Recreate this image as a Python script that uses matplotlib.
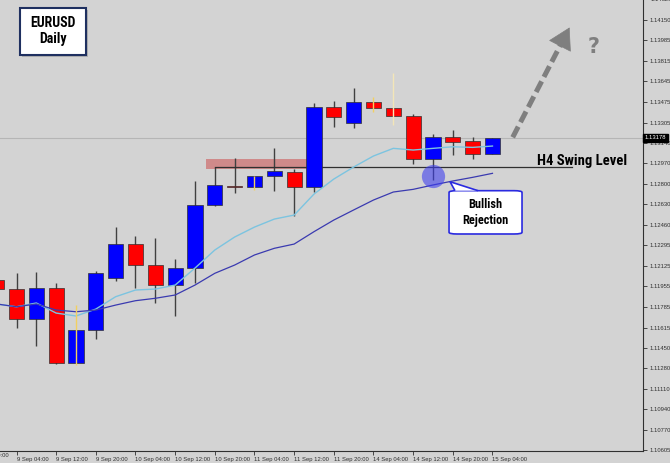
import matplotlib
matplotlib.use("Agg")
import matplotlib.pyplot as plt
from matplotlib.patches import FancyBboxPatch, Polygon

# H4 candles, index -1 = 9 Sep 00:00
idx = list(range(-1, 25))
opens = [1.12007, 1.11930, 1.11685, 1.11938, 1.11325, 1.11594, 1.12021, 1.12303, 1.12133,
         1.11965, 1.12103, 1.12625, 1.12784, 1.12771, 1.12864, 1.12894, 1.12776, 1.13435,
         1.13303, 1.13472, 1.13427, 1.13359, 1.13004, 1.13183, 1.13153, 1.13043]
highs = [1.12020, 1.12067, 1.12075, 1.11979, 1.11800, 1.12083, 1.12441, 1.12369, 1.12350,
         1.12180, 1.12823, 1.12941, 1.13010, 1.12864, 1.13097, 1.12922, 1.13468, 1.13486,
         1.13587, 1.13518, 1.13716, 1.13375, 1.13210, 1.13243, 1.13183, 1.13178]
lows = [1.11925, 1.11613, 1.11465, 1.11312, 1.11306, 1.11518, 1.12001, 1.11943, 1.11814,
        1.11710, 1.11978, 1.12620, 1.12726, 1.12749, 1.12740, 1.12534, 1.12734, 1.13268,
        1.13257, 1.13394, 1.13284, 1.12963, 1.12831, 1.13037, 1.13002, 1.13043]
closes = [1.11932, 1.11685, 1.11938, 1.11325, 1.11594, 1.12062, 1.12303, 1.12130, 1.11965,
          1.12103, 1.12625, 1.12787, 1.12771, 1.12864, 1.12903, 1.12776, 1.13430, 1.13348,
          1.13472, 1.13427, 1.13361, 1.13004, 1.13183, 1.13147, 1.13043, 1.13178]

# moving averages
ma_fast = [1.11809, 1.11786, 1.11817, 1.11734, 1.11710, 1.11767, 1.11869, 1.11924, 1.11932,
           1.11965, 1.12105, 1.12254, 1.12361, 1.12443, 1.12509, 1.12542, 1.12715, 1.12839,
           1.12938, 1.13029, 1.13092, 1.13078, 1.13092, 1.13105, 1.13100, 1.13111]
ma_slow = [1.11809, 1.11786, 1.11809, 1.11759, 1.11745, 1.11759, 1.11800, 1.11836, 1.11856,
           1.11883, 1.11965, 1.12062, 1.12130, 1.12213, 1.12268, 1.12303, 1.12405, 1.12501,
           1.12584, 1.12666, 1.12732, 1.12754, 1.12790, 1.12823, 1.12853, 1.12886]

yticks = [1.10605, 1.10770, 1.10940, 1.11110, 1.11280, 1.11450, 1.11615, 1.11785, 1.11955,
          1.12125, 1.12295, 1.12460, 1.12630, 1.12800, 1.12970, 1.13140, 1.13305, 1.13475,
          1.13645, 1.13815, 1.13985, 1.14150]
xtick_idx = [0, 2, 4, 6, 8, 10, 12, 14, 16, 18, 20, 22, 24]
xtick_labels = ["9 Sep 04:00", "9 Sep 12:00", "9 Sep 20:00", "10 Sep 04:00",
                "10 Sep 12:00", "10 Sep 20:00", "11 Sep 04:00", "11 Sep 12:00", "11 Sep 20:00",
                "14 Sep 04:00", "14 Sep 12:00", "14 Sep 20:00", "15 Sep 04:00"]

last_price = 1.13178
swing_level = 1.12942
zone_low, zone_high = 1.12922, 1.13002
rejection_price = 1.12864

bg = "#d3d3d3"
fig = plt.figure(figsize=(6.7, 4.63), dpi=100, facecolor=bg)
ax = fig.add_axes([0, 12 / 463, 643 / 670, 451 / 463], facecolor=bg)

# wicks + bodies
special_wicks = {3: "#f2d060", 12: "#f2d060", 18: "#f2d060", 19: "#f3e6b8"}
for i, o, h, l, c in zip(idx, opens, highs, lows, closes):
    col = "#0000ff" if c >= o else "#ff0000"
    wick = special_wicks.get(i, "#404040")
    ax.vlines(i, l, h, color=wick, lw=1.0, zorder=6 if i in special_wicks else 3)
    ax.bar(i, max(abs(c - o), 0.00002), bottom=min(o, c), width=0.76,
           color=col, edgecolor="#303030", lw=0.5, zorder=4)

ax.plot(idx, ma_fast, color="#7cc4e0", lw=1.0, zorder=5)
ax.plot(idx, ma_slow, color="#3a3ab0", lw=0.9, zorder=5)

# current price line
ax.axhline(last_price, color="#b5b5b5", lw=0.8, zorder=1)

# resistance zone and swing level
ax.fill_between([9.56, 14.65], zone_low, zone_high, color="#cc3333", alpha=0.45, lw=0, zorder=2)
ax.plot([10.0, 28.0], [swing_level, swing_level], color="#303030", lw=0.9, zorder=3)

bold_font = ["Roboto Condensed", "Liberation Sans"]
ax.text(26.25, 1.12955, "H4 Swing Level", fontsize=10.5, fontweight="bold",
        family=bold_font, va="baseline", ha="left", color="black", zorder=8)

# rejection circle
ax.scatter([21], [rejection_price], s=280, color="#3c3cf0", alpha=0.58, lw=0, zorder=7)

# callout
box_bottom, box_top = 1.12386, 1.12743
box = FancyBboxPatch((21.81, box_bottom), 25.49 - 21.81, box_top - box_bottom,
                     boxstyle="round,pad=0,rounding_size=0.4", mutation_aspect=0.00035,
                     facecolor="white", edgecolor="#2a2ae0", lw=1.2, zorder=8)
ax.add_patch(box)
tail = Polygon([(22.11, box_top), (21.86, 1.12817), (23.27, box_top)], closed=False,
               facecolor="white", edgecolor="#2a2ae0", lw=1.2, zorder=9)
ax.add_patch(tail)
ax.text(23.65, (box_bottom + box_top) / 2, "Bullish\nRejection", fontsize=8.8,
        fontweight="bold", family=bold_font, ha="center", va="center",
        linespacing=1.25, zorder=10)

# dashed arrow
x0, y0, x1, y1 = 25.02, 1.13183, 27.95, 1.14109
f = 0.86
ax.plot([x0, x0 + (x1 - x0) * f], [y0, y0 + (y1 - y0) * f], color="#7f7f7f", lw=3.6,
        dashes=(2.4, 1.0), solid_capstyle="butt", dash_capstyle="butt", zorder=6)
ax.annotate("", xy=(x1, y1), xytext=(x0 + (x1 - x0) * 0.8, y0 + (y1 - y0) * 0.8),
            arrowprops=dict(arrowstyle="-|>,head_length=1.2,head_width=0.7", color="#7f7f7f",
                            lw=0.5, mutation_scale=12), zorder=6)
ax.text(29.12, 1.13930, "?", fontsize=15, fontweight="bold", color="#7f7f7f",
        ha="center", va="center", zorder=6)

# title box with a soft shadow
ax.add_patch(FancyBboxPatch((0.034, 0.873), 0.103, 0.104, boxstyle="square,pad=0",
                            transform=ax.transAxes, facecolor="#9a9a9a", edgecolor="none",
                            alpha=0.6, zorder=9))
ax.add_patch(FancyBboxPatch((0.031, 0.878), 0.103, 0.104, boxstyle="square,pad=0",
                            transform=ax.transAxes, facecolor="white", edgecolor="#1f3060",
                            lw=1.5, zorder=10))
ax.text(0.0824, 0.931, "EURUSD\nDaily", transform=ax.transAxes, fontsize=10,
        fontweight="bold", family=bold_font, ha="center", va="center",
        linespacing=1.2, zorder=11)

# axes
for s in ["top", "left"]:
    ax.spines[s].set_visible(False)
for s in ["right", "bottom"]:
    ax.spines[s].set_color("#303030")
    ax.spines[s].set_linewidth(0.8)
ax.yaxis.tick_right()
ax.set_yticks(yticks)
ax.set_yticklabels([f"{v:.5f}" for v in yticks], family="Liberation Sans")
ax.set_xticks(xtick_idx)
ax.set_xticklabels(xtick_labels, ha="left", family="Liberation Sans")
ax.tick_params(axis="both", labelsize=4.2, colors="#303030", length=3, width=0.6,
               labelcolor="#303030")
ax.tick_params(axis="y", pad=1.5)
ax.tick_params(axis="x", pad=1)
ax.set_xlim(-0.832, 31.59)
ax.set_ylim(1.10597, 1.14315)

# clipped labels at the chart edges
ax.text(-2, -0.005, "8 Sep 20:00", transform=ax.get_xaxis_transform(), fontsize=4.2,
        family="Liberation Sans", color="#303030", ha="left", va="top", clip_on=False)
ax.text(1.012, 1.14320, "1.14320", transform=ax.get_yaxis_transform(), fontsize=4.2,
        family="Liberation Sans", color="#303030", ha="left", va="center", clip_on=False)

# price tag
ax.text(1.003, last_price, "1.13178", transform=ax.get_yaxis_transform(), fontsize=4.2,
        family="Liberation Sans", color="white", va="center", ha="left",
        bbox=dict(boxstyle="square,pad=0.25", facecolor="black", edgecolor="black"),
        zorder=12, clip_on=False)

fig.savefig("out.png", dpi=100, facecolor=bg)
